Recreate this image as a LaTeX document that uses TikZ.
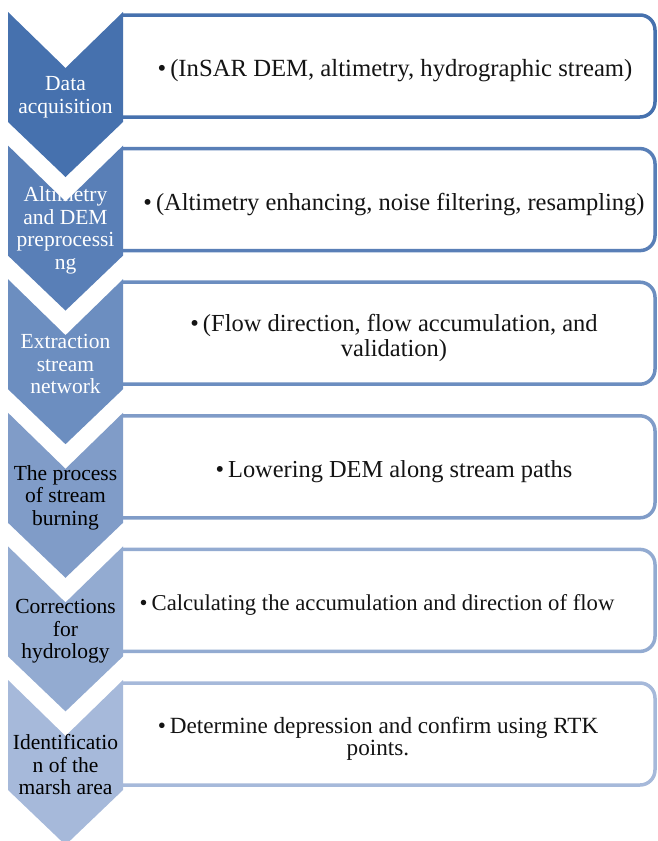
\documentclass[tikz,border=0pt]{standalone}
\usepackage{fontspec}
\setmainfont{Liberation Serif}
\newfontfamily\tnrfont{Liberation Serif}
\definecolor{r0}{RGB}{70,113,174}
\definecolor{r1}{RGB}{89,127,183}
\definecolor{r2}{RGB}{108,142,192}
\definecolor{r3}{RGB}{128,156,200}
\definecolor{r4}{RGB}{147,171,209}
\definecolor{r5}{RGB}{166,185,218}
\definecolor{txt}{RGB}{20,20,20}
% #1 index, #2 colour, #3 chevron text colour, #4 chevron text, #5 box text,
% #6 box font size, #7 box leading, #8 box text centre x
\newcommand{\chevrow}[8]{%
  \pgfmathsetmacro{\ctop}{12+133.6*#1}%
  \pgfmathsetmacro{\btop}{15+133.6*#1}%
  \draw[boxline, draw=#2] (123,\btop) -- (655,\btop) -- (655,\btop+102) -- (123,\btop+102);
  \fill[#2] (8,\ctop) -- (65.5,\ctop+56) -- (123,\ctop) -- (123,\ctop+110)
     -- (65.5,\ctop+165) -- (8,\ctop+110) -- cycle;
  \node[chevtext, text=#3] (c#1) at (65.5,\ctop+85) {#4};
  \node[boxtext, font=\tnrfont\fontsize{#6}{#7}\selectfont] (b#1) at (#8,\btop+56) {#5};
}
\begin{document}
\begin{tikzpicture}[x=1pt,y=-1pt,
  boxline/.style={line width=3.5pt, rounded corners=15pt, fill=white},
  chevtext/.style={align=center, font=\tnrfont\fontsize{21.5}{22.5}\selectfont, inner sep=0pt},
  boxtext/.style={align=center, text=txt, inner sep=0pt}]
\useasboundingbox (0,0) rectangle (658,841);
\chevrow{0}{r0}{white}{Data\\acquisition}{\textbullet\hspace{4pt}(InSAR DEM, altimetry, hydrographic stream)}{24.7}{25.5}{395}
\chevrow{1}{r1}{white}{Altimetry\\and DEM\\preprocessi\\ng}{\textbullet\hspace{4pt}(Altimetry enhancing, noise filtering, resampling)}{24.5}{25.5}{394}
\chevrow{2}{r2}{white}{Extraction\\stream\\network}{\textbullet\hspace{4pt}(Flow direction, flow accumulation, and\\validation)}{24.5}{25.5}{394}
\chevrow{3}{r3}{black}{The process\\of stream\\burning}{\textbullet\hspace{4pt}Lowering DEM along stream paths}{24.4}{25.5}{394}
\chevrow{4}{r4}{black}{Corrections\\for\\hydrology}{\textbullet\hspace{4pt}Calculating the accumulation and direction of flow}{22.7}{24}{377}
\chevrow{5}{r5}{black}{Identificatio\\n of the\\marsh area}{\textbullet\hspace{4pt}Determine depression and confirm using RTK\\points.}{23.2}{22.5}{378}
\end{tikzpicture}
\end{document}
